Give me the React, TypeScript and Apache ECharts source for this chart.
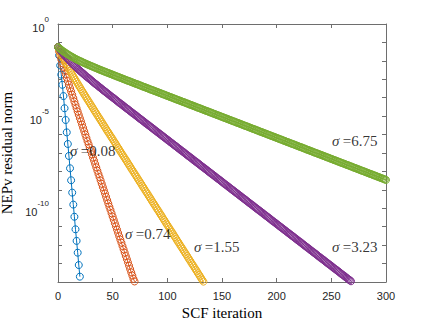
import React, { useEffect, useRef } from "react";
import * as echarts from "echarts";

// Residual norm per SCF iteration, stored as decades below 1: residual = 10^(-value), index = iteration
const sigma008 = [1.25,1.70,2.25,2.75,3.30,3.91,4.57,5.21,5.88,6.51,7.16,7.83,8.48,9.15,9.80,10.46,11.14,11.77,12.41,13.08,13.71];
const sigma074 = [
1.25,1.48,1.71,1.92,2.13,2.33,2.53,2.72,2.91,3.10,
3.29,3.48,3.66,3.84,4.02,4.21,4.39,4.57,4.75,4.93,
5.11,5.28,5.46,5.64,5.82,6.00,6.18,6.36,6.53,6.71,
6.89,7.07,7.25,7.42,7.60,7.78,7.96,8.14,8.31,8.49,
8.67,8.85,9.03,9.20,9.38,9.56,9.74,9.92,10.09,10.27,
10.45,10.63,10.81,10.98,11.16,11.34,11.52,11.70,11.87,12.05,
12.23,12.41,12.59,12.76,12.94,13.12,13.30,13.48,13.65,13.83,
13.97];
const sigma155 = [
1.25,1.38,1.51,1.64,1.76,1.88,1.99,2.11,2.22,2.32,
2.43,2.54,2.64,2.74,2.84,2.94,3.04,3.14,3.24,3.34,
3.43,3.53,3.63,3.72,3.82,3.91,4.01,4.10,4.20,4.29,
4.39,4.48,4.57,4.67,4.76,4.85,4.95,5.04,5.13,5.23,
5.32,5.42,5.51,5.60,5.70,5.79,5.88,5.97,6.07,6.16,
6.25,6.35,6.44,6.53,6.63,6.72,6.81,6.91,7.00,7.09,
7.19,7.28,7.37,7.46,7.56,7.65,7.74,7.84,7.93,8.02,
8.12,8.21,8.30,8.40,8.49,8.58,8.67,8.77,8.86,8.95,
9.05,9.14,9.23,9.33,9.42,9.51,9.61,9.70,9.79,9.88,
9.98,10.07,10.16,10.26,10.35,10.44,10.54,10.63,10.72,10.82,
10.91,11.00,11.10,11.19,11.28,11.37,11.47,11.56,11.65,11.75,
11.84,11.93,12.03,12.12,12.21,12.31,12.40,12.49,12.58,12.68,
12.77,12.86,12.96,13.05,13.14,13.24,13.33,13.42,13.52,13.61,
13.70,13.80,13.89,13.98];
const sigma323 = [
1.25,1.33,1.41,1.49,1.56,1.64,1.71,1.77,1.84,1.90,
1.97,2.03,2.09,2.15,2.21,2.26,2.32,2.37,2.43,2.48,
2.54,2.59,2.64,2.69,2.74,2.80,2.85,2.90,2.94,2.99,
3.04,3.09,3.14,3.19,3.24,3.28,3.33,3.38,3.43,3.47,
3.52,3.57,3.62,3.66,3.71,3.76,3.80,3.85,3.90,3.94,
3.99,4.03,4.08,4.13,4.17,4.22,4.27,4.31,4.36,4.40,
4.45,4.50,4.54,4.59,4.63,4.68,4.73,4.77,4.82,4.86,
4.91,4.95,5.00,5.05,5.09,5.14,5.18,5.23,5.27,5.32,
5.37,5.41,5.46,5.50,5.55,5.59,5.64,5.68,5.73,5.78,
5.82,5.87,5.91,5.96,6.00,6.05,6.10,6.14,6.19,6.23,
6.28,6.32,6.37,6.42,6.46,6.51,6.55,6.60,6.64,6.69,
6.74,6.78,6.83,6.87,6.92,6.96,7.01,7.06,7.10,7.15,
7.19,7.24,7.28,7.33,7.38,7.42,7.47,7.51,7.56,7.60,
7.65,7.70,7.74,7.79,7.83,7.88,7.92,7.97,8.02,8.06,
8.11,8.15,8.20,8.24,8.29,8.34,8.38,8.43,8.47,8.52,
8.56,8.61,8.66,8.70,8.75,8.79,8.84,8.88,8.93,8.98,
9.02,9.07,9.11,9.16,9.20,9.25,9.30,9.34,9.39,9.43,
9.48,9.52,9.57,9.62,9.66,9.71,9.75,9.80,9.84,9.89,
9.94,9.98,10.03,10.07,10.12,10.16,10.21,10.25,10.30,10.35,
10.39,10.44,10.48,10.53,10.57,10.62,10.67,10.71,10.76,10.80,
10.85,10.89,10.94,10.99,11.03,11.08,11.12,11.17,11.21,11.26,
11.31,11.35,11.40,11.44,11.49,11.53,11.58,11.63,11.67,11.72,
11.76,11.81,11.85,11.90,11.95,11.99,12.04,12.08,12.13,12.17,
12.22,12.27,12.31,12.36,12.40,12.45,12.49,12.54,12.59,12.63,
12.68,12.72,12.77,12.81,12.86,12.91,12.95,13.00,13.04,13.09,
13.13,13.18,13.23,13.27,13.32,13.36,13.41,13.45,13.50,13.55,
13.59,13.64,13.68,13.73,13.77,13.82,13.87,13.91,13.96];
const sigma675 = [
1.25,1.30,1.35,1.40,1.45,1.49,1.53,1.57,1.61,1.65,
1.69,1.72,1.76,1.79,1.82,1.86,1.89,1.92,1.95,1.98,
2.01,2.03,2.06,2.09,2.12,2.14,2.17,2.20,2.22,2.25,
2.27,2.30,2.32,2.35,2.37,2.40,2.42,2.45,2.47,2.50,
2.52,2.54,2.57,2.59,2.61,2.64,2.66,2.68,2.71,2.73,
2.75,2.78,2.80,2.82,2.85,2.87,2.89,2.92,2.94,2.96,
2.99,3.01,3.03,3.06,3.08,3.10,3.12,3.15,3.17,3.19,
3.22,3.24,3.26,3.28,3.31,3.33,3.35,3.38,3.40,3.42,
3.44,3.47,3.49,3.51,3.54,3.56,3.58,3.60,3.63,3.65,
3.67,3.69,3.72,3.74,3.76,3.79,3.81,3.83,3.85,3.88,
3.90,3.92,3.95,3.97,3.99,4.01,4.04,4.06,4.08,4.11,
4.13,4.15,4.17,4.20,4.22,4.24,4.26,4.29,4.31,4.33,
4.36,4.38,4.40,4.42,4.45,4.47,4.49,4.52,4.54,4.56,
4.58,4.61,4.63,4.65,4.68,4.70,4.72,4.74,4.77,4.79,
4.81,4.83,4.86,4.88,4.90,4.93,4.95,4.97,4.99,5.02,
5.04,5.06,5.09,5.11,5.13,5.15,5.18,5.20,5.22,5.25,
5.27,5.29,5.31,5.34,5.36,5.38,5.40,5.43,5.45,5.47,
5.50,5.52,5.54,5.56,5.59,5.61,5.63,5.66,5.68,5.70,
5.72,5.75,5.77,5.79,5.82,5.84,5.86,5.88,5.91,5.93,
5.95,5.97,6.00,6.02,6.04,6.07,6.09,6.11,6.13,6.16,
6.18,6.20,6.23,6.25,6.27,6.29,6.32,6.34,6.36,6.39,
6.41,6.43,6.45,6.48,6.50,6.52,6.54,6.57,6.59,6.61,
6.64,6.66,6.68,6.70,6.73,6.75,6.77,6.80,6.82,6.84,
6.86,6.89,6.91,6.93,6.96,6.98,7.00,7.02,7.05,7.07,
7.09,7.11,7.14,7.16,7.18,7.21,7.23,7.25,7.27,7.30,
7.32,7.34,7.37,7.39,7.41,7.43,7.46,7.48,7.50,7.53,
7.55,7.57,7.59,7.62,7.64,7.66,7.68,7.71,7.73,7.75,
7.78,7.80,7.82,7.84,7.87,7.89,7.91,7.94,7.96,7.98,
8.00,8.03,8.05,8.07,8.10,8.12,8.14,8.16,8.19,8.21,
8.23,8.25,8.28,8.30,8.32,8.35,8.37,8.39,8.41,8.44,
8.46];

const seriesData = [sigma008, sigma074, sigma155, sigma323, sigma675];
const seriesNames = ["0.08", "0.74", "1.55", "3.23", "6.75"];
const seriesColors = ["#0072BD", "#D95319", "#EDB120", "#7E2F8E", "#77AC30"];

// Annotation anchors (left edge of text, vertical centre) in data coordinates
const annotationTexts = ["0.08", "0.74", "1.55", "3.23", "6.75"];
const annotationIter = [11, 61.3, 124.5, 250.6, 250.6];
const annotationExp = [-6.87, -11.39, -12.08, -12.08, -6.35];

const xMin = 0, xMax = 300, xStep = 50;
const yMinExp = -14, yMaxExp = 0;
const yLabelExps = [0, -5, -10];

const AXIS_COLOR = "#6e6e6e";
const TEXT_COLOR = "#262626";

export default function App() {
  const ref = useRef<HTMLDivElement>(null);
  useEffect(() => {
    if (!ref.current) return;
    const chart = echarts.init(ref.current, null, { renderer: "svg" });
    const lineSeries = seriesData.map((arr, idx) => ({
      name: seriesNames[idx],
      type: "line",
      xAxisIndex: 0,
      yAxisIndex: 0,
      data: arr.map((v, i) => [i, -v]),
      symbol: "circle",
      symbolSize: 7,
      showSymbol: true,
      showAllSymbol: true,
      lineStyle: { color: seriesColors[idx], width: 1 },
      itemStyle: { color: "rgba(0,0,0,0)", borderColor: seriesColors[idx], borderWidth: 1 },
      emphasis: { disabled: true },
      silent: true,
      z: 2 + idx,
    }));
    const annSeries = {
      type: "scatter",
      xAxisIndex: 0,
      yAxisIndex: 0,
      symbolSize: 0,
      silent: true,
      z: 20,
      data: annotationTexts.map((t, i) => ({ value: [annotationIter[i], annotationExp[i]], name: t })),
      label: {
        show: true,
        position: "right",
        distance: 0,
        formatter: (p: any) => `{s|σ} {t|=${p.name}}`,
        rich: {
          s: { fontFamily: "Liberation Serif", fontStyle: "italic", fontSize: 15, color: "#000" },
          t: { fontFamily: "Liberation Serif", fontSize: 15, color: "#000" },
        },
      },
    };
    const commonX = {
      type: "value",
      min: xMin,
      max: xMax,
      interval: xStep,
      splitLine: { show: false },
      axisLine: { show: true, onZero: false, lineStyle: { color: AXIS_COLOR, width: 1 } },
      axisTick: { show: true, inside: true, length: 4, lineStyle: { color: AXIS_COLOR } },
    };
    const commonY = {
      type: "value",
      min: yMinExp,
      max: yMaxExp,
      interval: 1,
      splitLine: { show: false },
      axisLine: { show: true, onZero: false, lineStyle: { color: AXIS_COLOR, width: 1 } },
      axisTick: { show: true, inside: true, length: 4, lineStyle: { color: AXIS_COLOR } },
    };
    chart.setOption({
      animation: false,
      backgroundColor: "#ffffff",
      grid: { left: 58, right: 41, top: 24, bottom: 39, containLabel: false, outerBoundsMode: "none" },
      xAxis: [
        {
          ...commonX,
          position: "bottom",
          name: "SCF iteration",
          nameLocation: "middle",
          nameGap: 21,
          nameTextStyle: { fontFamily: "Liberation Serif", fontSize: 15, color: "#000", verticalAlign: "top" },
          axisLabel: { show: true, margin: 8, fontFamily: "Liberation Sans", fontSize: 11, color: TEXT_COLOR },
        },
        { ...commonX, position: "top", axisLabel: { show: false } },
      ],
      yAxis: [
        {
          ...commonY,
          position: "left",
          name: "NEPv residual norm",
          nameLocation: "middle",
          nameGap: 42,
          nameTextStyle: { fontFamily: "Liberation Serif", fontSize: 15, color: "#000" },
          axisLabel: {
            show: true,
            margin: 9,
            formatter: (v: number) => (yLabelExps.includes(v) ? `{b|10}{s|${v}}` : ""),
            rich: {
              b: { fontFamily: "Liberation Sans", fontSize: 11, color: TEXT_COLOR, lineHeight: 18, verticalAlign: "bottom" },
              s: { fontFamily: "Liberation Sans", fontSize: 8, color: TEXT_COLOR, lineHeight: 18, verticalAlign: "top" },
            },
          },
        },
        { ...commonY, position: "right", axisLabel: { show: false } },
      ],
      series: [...lineSeries, annSeries],
    });
    return () => chart.dispose();
  }, []);
  return <div ref={ref} style={{ position: "fixed", left: 0, top: 0, width: 427, height: 321 }} />;
}
